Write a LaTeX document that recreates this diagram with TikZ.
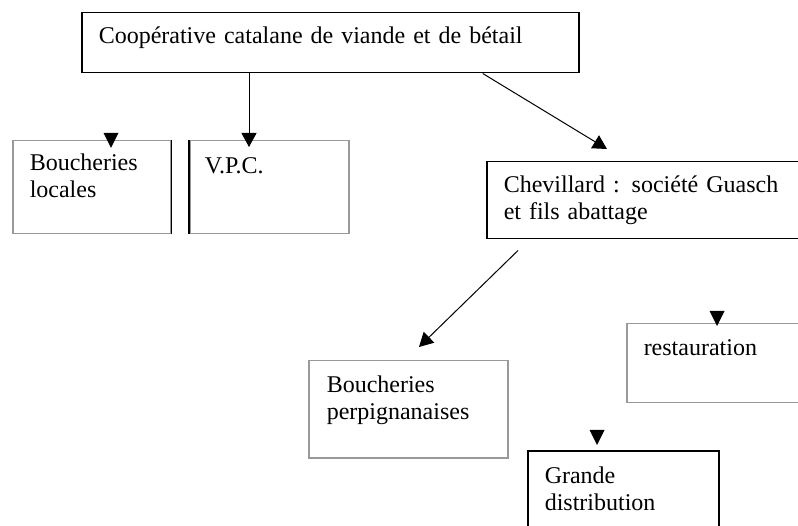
\documentclass[tikz,border=0pt]{standalone}
\usepackage{fontspec}
\setmainfont{Liberation Serif}
\usetikzlibrary{arrows.meta}
\begin{document}
\begin{tikzpicture}[x=1pt, y=-1pt,
    box/.style={draw, line width=1.5pt, anchor=north west, align=left, inner xsep=17pt, inner ysep=0pt,
        text height=31pt, font=\fontsize{24}{27}\selectfont},
    pale/.style={box, draw=black!40},
    arr/.style={-{Triangle[length=14pt, width=15pt]}, line width=1pt}]
    \useasboundingbox (0,0) rectangle (798,526);
    \clip (0,0) rectangle (798,526);
    \node[box, text width=463pt, text depth=29pt] (coop) at (81,12) {Coopérative catalane de viande et de bétail};
    \node[pale, text width=124pt, text height=30pt, text depth=63pt] (loc) at (12,140) {Boucheries\\locales};
    \node[pale, inner xsep=15pt, text width=129pt, text height=33pt, text depth=60pt] (vpc) at (189,140) {V.P.C.};
    \node[box, text width=296pt, text depth=46pt] (chev) at (486,161) {\makebox[283pt][s]{Chevillard : société Guasch}\\et fils abattage};
    \node[pale, inner xsep=18pt, text width=163pt, text height=32pt, text depth=65pt] (perp) at (308,360) {Boucheries\\perpignanaises};
    \node[pale, text width=166pt, text height=32pt, text depth=47pt] (rest) at (626,323) {restauration};
    \node[box, text width=157pt, text height=33pt, text depth=100pt] (grande) at (527,450) {Grande\\distribution};
    \draw[line width=1.5pt] (loc.north east) -- (loc.south east);
    \draw[line width=1.5pt] (vpc.north west) -- (vpc.south west);
    \coordinate (vpctip) at (249,147);
    \coordinate (chevtip) at (607,149);
    \coordinate (perptip) at (419,347);
    \draw[arr] (coop.south -| vpctip) -- (vpctip);
    \draw[arr] ([xshift=152.5pt]coop.south) -- (chevtip);
    \draw[arr] ([shift={(32,11)}]chev.south west) -- (perptip);
    \foreach \x/\y in {111/133, 717/311, 597/430}
        \fill (\x-7.5,\y) -- (\x+7.5,\y) -- (\x,\y+15) -- cycle;
\end{tikzpicture}
\end{document}
